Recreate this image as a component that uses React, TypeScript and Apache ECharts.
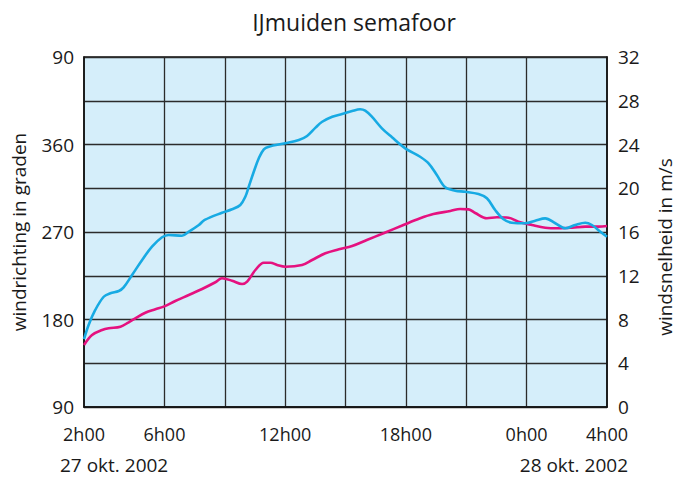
import React, { useEffect, useRef } from "react";
import * as echarts from "echarts";

// Time in hours since 0h00 on 27 okt. 2002
const speedHours = [2.0, 2.23, 2.56, 2.98, 3.31, 3.73, 3.97, 4.39, 4.89, 5.38, 5.88, 6.21, 6.87, 7.21, 7.71, 8.0, 8.86, 9.36, 9.77, 10.02, 10.19, 10.44, 10.69, 10.94, 11.19, 12.01, 12.68, 13.09, 13.51, 13.84, 14.34, 14.83, 15.33, 15.73, 15.98, 16.31, 16.81, 17.31, 17.97, 18.71, 19.13, 19.54, 19.96, 20.45, 20.95, 21.61, 22.03, 22.44, 22.86, 23.27, 23.94, 24.43, 24.93, 25.43, 25.93, 26.42, 26.92, 27.25, 27.67, 28.0];
const speedValues = [6.2, 7.5, 8.87, 10.08, 10.4, 10.61, 10.94, 12.07, 13.44, 14.66, 15.52, 15.73, 15.66, 16.03, 16.64, 17.1, 17.76, 18.08, 18.47, 19.23, 20.14, 21.51, 22.74, 23.56, 23.8, 24.11, 24.41, 24.78, 25.54, 26.08, 26.54, 26.79, 27.06, 27.22, 27.09, 26.54, 25.48, 24.66, 23.65, 22.88, 22.28, 21.21, 20.09, 19.78, 19.68, 19.47, 19.08, 18.01, 17.16, 16.85, 16.8, 17.03, 17.25, 16.8, 16.34, 16.64, 16.85, 16.64, 16.03, 15.57];

const dirHours = [2.0, 2.4, 2.9, 3.23, 3.81, 4.22, 4.55, 5.05, 5.55, 5.96, 6.54, 7.21, 7.87, 8.53, 8.86, 9.36, 9.86, 10.11, 10.52, 10.94, 11.27, 11.6, 12.01, 12.84, 13.34, 14.0, 14.67, 15.33, 16.06, 16.89, 17.88, 18.71, 19.37, 20.21, 20.7, 21.12, 21.45, 22.03, 22.53, 23.11, 23.6, 24.27, 24.93, 25.59, 26.26, 26.92, 27.58, 28.0];
const dirValues = [153.8, 164.1, 169.2, 171.0, 172.6, 177.1, 181.2, 187.0, 190.5, 193.2, 199.0, 205.2, 211.4, 218.3, 222.4, 219.9, 216.5, 218.9, 230.9, 238.4, 238.4, 236.1, 234.3, 236.1, 241.2, 248.1, 252.2, 255.6, 261.8, 268.7, 277.2, 284.1, 288.5, 291.6, 293.7, 293.3, 289.5, 284.1, 285.1, 284.7, 280.6, 277.2, 274.4, 273.8, 274.4, 275.5, 275.5, 276.2];

const xLabelHours = [2, 6, 12, 18, 24, 28];
const xGridHours = [6, 9, 12, 15, 18, 21, 24];
const dateLabels = ["27 okt. 2002", "28 okt. 2002"];

const TITLE = "IJmuiden semafoor";
const LEFT_NAME = "windrichting in graden";
const RIGHT_NAME = "windsnelheid in m/s";

const FONT = "'Open Sans', 'Noto Sans', sans-serif";
const CYAN = "#17AAE3";
const MAGENTA = "#E5117F";
const TEXT = "#1a1a1a";
const GRID = "#2b2b2b";

export default function App() {
  const ref = useRef<HTMLDivElement>(null);

  useEffect(() => {
    document.body.style.margin = "0";
    if (!ref.current) return;
    const chart = echarts.init(ref.current, undefined, { renderer: "svg" });
    const option: any = {
      animation: false,
      backgroundColor: "#ffffff",
      textStyle: { fontFamily: FONT, color: TEXT },
      title: {
        text: TITLE,
        left: 349,
        top: 5,
        textAlign: "center",
        textStyle: { fontFamily: FONT, fontSize: 23, fontWeight: "normal", color: TEXT },
      },
      grid: {
        left: 84,
        right: 72,
        top: 57,
        bottom: 70,
        containLabel: false,
        outerBoundsMode: "none",
        show: true,
        backgroundColor: "#D5EEFA",
        borderColor: "#111",
        borderWidth: 1.5,
      },
      xAxis: {
        type: "value",
        min: 2,
        max: 28,
        axisLine: { show: true, lineStyle: { color: "#111", width: 1.5 } },
        axisTick: { show: false, customValues: xGridHours },
        splitLine: { show: true, lineStyle: { color: GRID, width: 1.3 } },
        axisLabel: {
          customValues: xLabelHours,
          formatter: (v: number) => `${v % 24}h00`,
          fontFamily: FONT,
          fontSize: 18,
          color: TEXT,
          margin: 18,
        },
      },
      yAxis: [
        {
          type: "value",
          position: "left",
          min: 90,
          max: 450,
          interval: 90,
          name: LEFT_NAME,
          nameLocation: "middle",
          nameRotate: 90,
          nameGap: 56,
          nameTextStyle: { fontFamily: FONT, fontSize: 19, color: TEXT },
          axisLine: { show: true, lineStyle: { color: "#111", width: 1.5 } },
          axisTick: { show: false },
          splitLine: { show: false },
          axisLabel: {
            formatter: (v: number) => `${v > 360 ? v - 360 : v}`,
            fontFamily: FONT,
            fontSize: 19,
            color: TEXT,
            margin: 10,
          },
        },
        {
          type: "value",
          position: "right",
          min: 0,
          max: 32,
          interval: 4,
          name: RIGHT_NAME,
          nameLocation: "middle",
          nameRotate: 90,
          nameGap: 48,
          nameTextStyle: { fontFamily: FONT, fontSize: 19, color: TEXT, padding: [0, 30, 0, 0] },
          axisLine: { show: true, lineStyle: { color: "#111", width: 1.5 } },
          axisTick: { show: false },
          splitLine: { show: true, lineStyle: { color: GRID, width: 1.3 } },
          axisLabel: {
            fontFamily: FONT,
            fontSize: 19,
            color: TEXT,
            margin: 11,
          },
        },
      ],
      graphic: [
        {
          type: "text",
          left: 60,
          top: 455,
          style: { text: dateLabels[0], font: `19px ${FONT}`, fill: TEXT },
        },
        {
          type: "text",
          right: 51,
          top: 455,
          style: { text: dateLabels[1], font: `19px ${FONT}`, fill: TEXT },
        },
      ],
      series: [
        {
          type: "line",
          name: "windrichting",
          yAxisIndex: 0,
          data: dirHours.map((h, i) => [h, dirValues[i]]),
          showSymbol: false,
          smooth: 0.35,
          lineStyle: { color: MAGENTA, width: 2.6 },
          itemStyle: { color: MAGENTA },
          z: 3,
        },
        {
          type: "line",
          name: "windsnelheid",
          yAxisIndex: 1,
          data: speedHours.map((h, i) => [h, speedValues[i]]),
          showSymbol: false,
          smooth: 0.35,
          lineStyle: { color: CYAN, width: 2.6 },
          itemStyle: { color: CYAN },
          z: 4,
        },
      ],
    };
    chart.setOption(option);
    return () => chart.dispose();
  }, []);

  return <div ref={ref} style={{ width: 679, height: 477 }} />;
}
